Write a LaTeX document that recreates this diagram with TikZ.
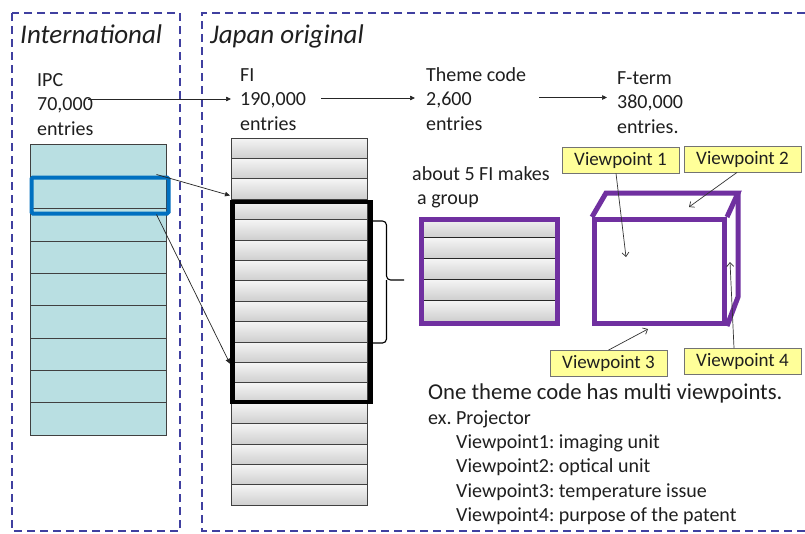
\documentclass[tikz,border=0pt]{standalone}
\usepackage{fontspec}
\setmainfont{Carlito}
\usetikzlibrary{calc,arrows.meta}
\definecolor{dashblue}{RGB}{64,64,160}
\definecolor{ipcfill}{RGB}{185,223,226}
\definecolor{hlblue}{RGB}{0,112,192}
\definecolor{vpurple}{RGB}{112,48,160}
\definecolor{vpyellow}{RGB}{255,255,153}
\frenchspacing
\begin{document}
\begin{tikzpicture}[x=1pt,y=-1pt,
  txt/.style={inner sep=0pt, anchor=base west, align=left, text=black!88,
    font=\fontsize{20}{24.3}\selectfont\frenchspacing},
  smalltxt/.style={txt},
  bigtxt/.style={txt, font=\fontsize{22.7}{26}\selectfont\frenchspacing},
  title/.style={inner sep=0pt, anchor=base west, text=black!88,
    font=\fontsize{27}{30}\selectfont\itshape},
  frame/.style={dashblue, line width=1.6pt, dash pattern=on 8pt off 5pt},
  ipcrow/.style={draw=black!75, line width=0.7pt, fill=ipcfill, anchor=north west,
    minimum width=136pt, minimum height=32.33pt, inner sep=0pt, outer sep=0pt},
  firow/.style={draw=black!75, line width=0.7pt, top color=gray!8, bottom color=gray!38,
    anchor=north west, minimum width=136pt, minimum height=20.4pt, inner sep=0pt, outer sep=0pt},
  grprow/.style={draw=black!85, line width=0.7pt, top color=gray!8, bottom color=gray!38,
    anchor=north west, minimum width=136pt, minimum height=20.8pt, inner sep=0pt, outer sep=0pt},
  vplabel/.style={draw=black!55, line width=0.8pt, fill=vpyellow, inner sep=0pt,
    minimum width=117pt, minimum height=26pt, text=black!88,
    font=\fontsize{19}{22}\selectfont},
  arr/.style={line width=0.7pt, black!85, -{Triangle[length=5pt,width=4.5pt]}},
  varr/.style={line width=0.7pt, black!80, -{Straight Barb[length=4pt,width=7pt]}},
  purp/.style={vpurple, line width=5pt, line join=miter}
]
\useasboundingbox (0,0) rectangle (805,533);
\fill[white] (0,0) rectangle (805,533);

% frames
\draw[frame] (12,13) rectangle (180,531);
\draw[frame] (805,13) -- (202,13) -- (202,531) -- (805,531);

% titles
\node[title] (tint) at (20,43) {International};
\node[title] (tjap) at (210,43) {Japan original};

% top texts (base anchor = baseline of the last line)
\node[txt] (ipc) at (37,135) {IPC\\70,000\\entries};
\node[txt] (fi) at (240,130) {FI\\190,000\\entries};
\node[txt] (theme) at (426,130) {Theme code\\2,600\\entries};
\node[txt] (fterm) at (617,133) {F-term\\380,000\\entries.};

\coordinate (a1s) at (88,99);
\coordinate (a1e) at (231,99);
\coordinate (a2s) at (321,98);
\coordinate (a2e) at (415,98);
\coordinate (a3s) at (539,97.5);
\coordinate (a3e) at (607,97.5);
\draw[arr] (a1s) -- (a1e);
\draw[arr] (a2s) -- (a2e);
\draw[arr] (a3s) -- (a3e);

% IPC stack
\foreach \i in {0,...,8}
  \node[ipcrow] (ipcr\i) at (30,{144+\i*32.33}) {};
\node[draw=hlblue, line width=4pt, rounded corners=1.5pt, minimum width=137pt, minimum height=36pt,
  inner sep=0pt, anchor=north west] (hl) at (29.5,175.5) {};

% FI stack
\foreach \i in {0,...,17}
  \node[firow] (fir\i) at (231,{138+\i*20.4}) {};
\node[draw=black, line width=4.5pt, minimum width=138pt, minimum height=200pt,
  inner sep=0pt, anchor=north west] (fibox) at (230,199.5) {};

% IPC -> FI arrows
\draw[arr] ($(hl.north east)+(-14,-1)$) -- ($(fibox.north west)+(0,-4)$);
\draw[arr] ($(hl.south east)+(-14,-1)$) -- ($(fibox.west)+(0,62)$);

% brace
\draw[line width=1.1pt, rounded corners=4pt] (372,221) -| (386.5,280) -- (404,280);
\draw[line width=1.1pt, rounded corners=4pt] (372,343) -| (386.5,280);

% group text
\node[smalltxt] (grp) at (412,180) {about 5 FI makes};
\node[smalltxt] (grp2) at (417,204) {a group};

% group box
\foreach \i in {0,...,4}
  \node[grprow] (gr\i) at (419,{217+\i*20.8}) {};
\node[draw=vpurple, line width=5pt, minimum width=136pt, minimum height=104pt,
  inner sep=0pt, anchor=north west] (grpbox) at (419,217) {};

% cube
\node[draw=vpurple, line width=5pt, minimum width=130pt, minimum height=104pt,
  inner sep=0pt, anchor=north west] (front) at (592,217) {};
\draw[purp] (front.north west) -- (606,193) -- (738,193) -- (front.north east);
\draw[purp] (738,193) -- (738,297) -- (front.south east);

% viewpoint labels
\node[vplabel] (vp1) at (620.5,160) {Viewpoint 1};
\node[vplabel] (vp2) at (742.5,159) {Viewpoint 2};
\node[vplabel] (vp3) at (608.5,363.5) {Viewpoint 3};
\node[vplabel] (vp4) at (742.5,361.5) {Viewpoint 4};

\coordinate (v1e) at (626,257);
\coordinate (v2e) at (689,207);
\coordinate (v3e) at (648,329);
\coordinate (v4e) at (730,262);
\draw[varr] ($(vp1.south)+(-4.5,0)$) -- (v1e);
\draw[varr] ($(vp2.south)+(-5.5,0)$) -- (v2e);
\draw[varr] ($(vp3.north)+(0,0)$) -- (v3e);
\draw[varr] ($(vp4.north)+(-8.5,0)$) -- (v4e);

% bottom text
\node[bigtxt] (one) at (428,399) {One theme code has multi viewpoints.};
\node[txt] (ex) at (428,424) {ex. Projector};
\node[txt] (l1) at (456,448) {Viewpoint1: imaging unit};
\node[txt] (l2) at (456,472.5) {Viewpoint2: optical unit};
\node[txt] (l3) at (456,497) {Viewpoint3: temperature issue};
\node[txt] (l4) at (456,521.5) {Viewpoint4: purpose of the patent};
\end{tikzpicture}
\end{document}
